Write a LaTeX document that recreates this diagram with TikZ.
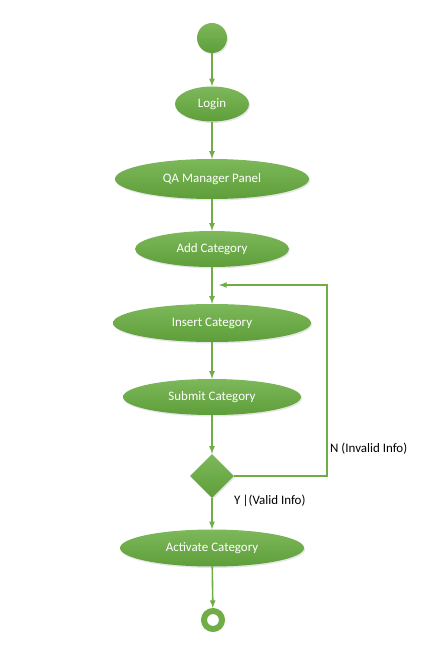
\documentclass[tikz,border=0pt]{standalone}
\usepackage{fontspec}
\setmainfont{Carlito}
\usetikzlibrary{arrows}
\usetikzlibrary{shapes.geometric}
\usetikzlibrary{shadows}

\definecolor{umlgreen}{HTML}{70AD47}
\definecolor{umltop}{HTML}{7DB85A}
\definecolor{umlbot}{HTML}{5E9E3A}

\begin{document}
\begin{tikzpicture}[x=1bp, y=-1bp, line/.style={>=latex},
	act/.style={ellipse, inner sep=0pt, top color=umltop, bottom color=umlbot, draw=none,
		text=white, font=\fontsize{13}{15}\selectfont,
		drop shadow={opacity=0.2, shadow xshift=1pt, shadow yshift=-1.5pt}},
	flow/.style={->, line, color=umlgreen, line width=1.6bp},
	lbl/.style={font=\fontsize{13}{15}\selectfont, inner sep=0pt, anchor=west}]

	\useasboundingbox (0,0) rectangle (427,645);

	\node[circle, inner sep=0pt, minimum size=30bp, top color=umltop, bottom color=umlbot,
		drop shadow={opacity=0.2, shadow xshift=1pt, shadow yshift=-1.5pt}] (start) at (212,38) {};

	\node[act, minimum width=74bp, minimum height=35bp] (login) at (212,104) {Login};
	\node[act, minimum width=194bp, minimum height=40bp] (panel) at (212,179) {QA Manager Panel};
	\node[act, minimum width=154bp, minimum height=36bp] (add) at (212,249) {Add Category};
	\node[act, minimum width=198bp, minimum height=38bp] (insert) at (212,323) {Insert Category};
	\node[act, minimum width=178bp, minimum height=36bp] (submit) at (212,397) {Submit Category};

	\node[diamond, aspect=1, inner sep=0pt, minimum width=44bp, minimum height=44bp,
		top color=umltop, bottom color=umlbot,
		drop shadow={opacity=0.2, shadow xshift=1pt, shadow yshift=-1.5pt}] (check) at (212,476) {};

	\node[act, minimum width=184bp, minimum height=37bp] (activate) at (212,548) {Activate Category};

	\node[circle, inner sep=0pt, minimum size=18bp, draw=umlgreen, line width=6bp, fill=white] (stop) at (213,620) {};

	\coordinate (loopr) at (327,285);
	\coordinate (loopin) at (219,285);

	\draw[flow] (start) -- (login);
	\draw[flow] (login) -- (panel);
	\draw[flow] (panel) -- (add);
	\draw[flow] (add) -- (insert);
	\draw[flow] (insert) -- (submit);
	\draw[flow] (submit) -- (check);
	\draw[flow] (check) -- (activate);
	\draw[flow] (activate) -- (stop);
	\draw[flow] (check.east) -| (loopr) -- (loopin);

	\node[lbl] (nlabel) at (330,449) {N (Invalid Info)};
	\node[lbl] (ylabel) at (234,501) {Y\,|(Valid Info)};

\end{tikzpicture}
\end{document}
